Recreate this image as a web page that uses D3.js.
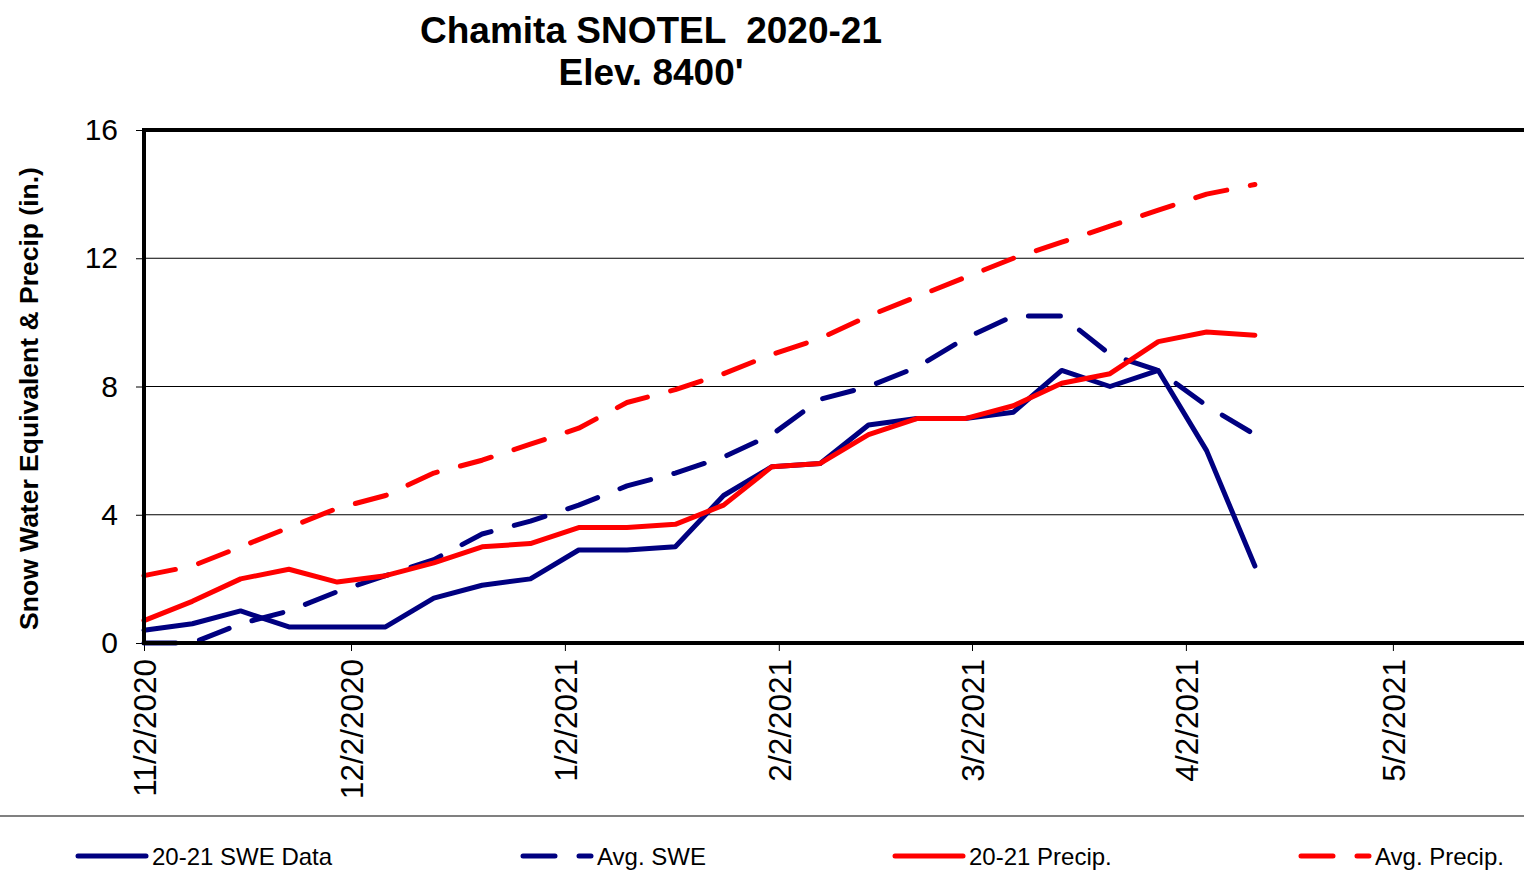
<!DOCTYPE html>
<html>
<head>
<meta charset="utf-8">
<script src="https://cdn.jsdelivr.net/npm/d3@7"></script>
<style>
  body { margin: 0; background: #fff; }
  text { font-family: "Liberation Sans", Arial, sans-serif; }
</style>
</head>
<body>
<div id="container"></div>
<script>
// DATA

const dates = [
  "2020-11-02", "2020-11-09", "2020-11-16", "2020-11-23", "2020-11-30",
  "2020-12-07", "2020-12-14", "2020-12-21", "2020-12-28", "2021-01-04",
  "2021-01-11", "2021-01-18", "2021-01-25", "2021-02-01", "2021-02-08",
  "2021-02-15", "2021-02-22", "2021-03-01", "2021-03-08", "2021-03-15",
  "2021-03-22", "2021-03-29", "2021-04-05", "2021-04-12"
]
const sweData    = [0.4, 0.6, 1.0, 0.5, 0.5, 0.5, 1.4, 1.8, 2.0, 2.9, 2.9, 3.0, 4.6, 5.5, 5.6, 6.8, 7.0, 7.0, 7.2, 8.5, 8.0, 8.5, 6.0, 2.4]
const avgSwe     = [0, 0, 0.6, 1.0, 1.6, 2.1, 2.6, 3.4, 3.8, 4.3, 4.9, 5.3, 5.8, 6.5, 7.6, 8.0, 8.6, 9.5, 10.2, 10.2, 9.0, 8.5, 7.4, 6.5]
const precipData = [0.7, 1.3, 2.0, 2.3, 1.9, 2.1, 2.5, 3.0, 3.1, 3.6, 3.6, 3.7, 4.3, 5.5, 5.6, 6.5, 7.0, 7.0, 7.4, 8.1, 8.4, 9.4, 9.7, 9.6]
const avgPrecip  = [2.1, 2.4, 3.0, 3.6, 4.2, 4.6, 5.3, 5.7, 6.2, 6.7, 7.5, 7.9, 8.4, 9.0, 9.5, 10.2, 10.8, 11.4, 12.0, 12.5, 13.0, 13.5, 14.0, 14.3]

const seriesNames = ["20-21 SWE Data", "Avg. SWE", "20-21 Precip.", "Avg. Precip."]
const yTicks = [0, 4, 8, 12, 16]
const xTicks = ["2020-11-02", "2020-12-02", "2021-01-02", "2021-02-02", "2021-03-02", "2021-04-02", "2021-05-02"]
const xDomain = ["2020-11-02", "2021-05-21"]

// VARIABLES

const width = 1524, height = 870
const plotLeft = 144, plotRight = 1524, plotTop = 130, plotBottom = 643
const navy = "#000080", red = "#ff0000"
const parse = d3.timeParse("%Y-%m-%d")
const fmt = d3.timeFormat("%-m/%-d/%Y")

const series = [
  {name: seriesNames[0], values: sweData, color: navy, dash: null},
  {name: seriesNames[1], values: avgSwe, color: navy, dash: "32,24"},
  {name: seriesNames[2], values: precipData, color: red, dash: null},
  {name: seriesNames[3], values: avgPrecip, color: red, dash: "32,24"}
]

// SCALES

const x = d3.scaleTime()
  .domain(xDomain.map(parse))
  .range([plotLeft, plotRight])

const y = d3.scaleLinear()
  .domain([0, 16])
  .range([plotBottom, plotTop])

// ELEMENTS

const svg = d3.select("#container")
  .append("svg")
  .attr("width", width)
  .attr("height", height)

// title
const title = svg.append("text")
  .attr("text-anchor", "middle")
  .attr("font-weight", "bold")
  .attr("font-size", 37)
  .style("white-space", "pre")
title.append("tspan").attr("x", 651).attr("y", 43).text("Chamita SNOTEL  2020-21")
title.append("tspan").attr("x", 651).attr("y", 85).text("Elev. 8400'")

// gridlines
svg.append("g")
  .selectAll("line")
  .data(yTicks.filter(d => d > 0 && d < 16))
  .join("line")
  .attr("x1", plotLeft).attr("x2", plotRight)
  .attr("y1", d => y(d)).attr("y2", d => y(d))
  .attr("stroke", "#000").attr("stroke-width", 1)

// y axis
const yAxis = svg.append("g")
  .attr("transform", `translate(${plotLeft},0)`)
  .call(d3.axisLeft(y).tickValues(yTicks).tickSize(8).tickPadding(18))
yAxis.select(".domain").remove()
yAxis.selectAll("text").attr("font-size", 30).attr("fill", "#000").attr("font-family", "Liberation Sans, Arial, sans-serif")

// x axis
const xAxis = svg.append("g")
  .attr("transform", `translate(0,${plotBottom})`)
  .call(d3.axisBottom(x).tickValues(xTicks.map(parse)).tickFormat(fmt).tickSize(8))
xAxis.select(".domain").remove()
xAxis.selectAll("text")
  .attr("font-size", 31.5)
  .attr("fill", "#000")
  .attr("font-family", "Liberation Sans, Arial, sans-serif")
  .attr("text-anchor", "end")
  .attr("transform", "rotate(-90)")
  .attr("x", -16).attr("y", 0).attr("dy", "0.36em")

// y axis label
svg.append("text")
  .attr("transform", `translate(38,${(plotTop + plotBottom) / 2 + 12}) rotate(-90)`)
  .attr("text-anchor", "middle")
  .attr("font-weight", "bold")
  .attr("font-size", 26.5)
  .text("Snow Water Equivalent & Precip (in.)")

// lines
const line = d3.line()
  .x((d, i) => x(parse(dates[i])))
  .y(d => y(d))

svg.append("g")
  .selectAll("path")
  .data(series)
  .join("path")
  .attr("d", d => line(d.values))
  .attr("fill", "none")
  .attr("stroke", d => d.color)
  .attr("stroke-width", 5)
  .attr("stroke-linecap", "round")
  .attr("stroke-linejoin", "round")
  .attr("stroke-dasharray", d => d.dash)

// plot border (left, top, bottom)
svg.append("path")
  .attr("d", `M${plotRight + 4},${plotTop}H${plotLeft}V${plotBottom}H${plotRight + 4}`)
  .attr("fill", "none")
  .attr("stroke", "#000")
  .attr("stroke-width", 4)

// legend
svg.append("line")
  .attr("x1", 0).attr("x2", width)
  .attr("y1", 816).attr("y2", 816)
  .attr("stroke", "#808080").attr("stroke-width", 2)

const legendX = [78, 523, 895, 1301]
const legend = svg.append("g")
  .selectAll("g")
  .data(series)
  .join("g")
  .attr("transform", (d, i) => `translate(${legendX[i]},856)`)

legend.append("line")
  .attr("x1", 0).attr("x2", 68)
  .attr("stroke", d => d.color)
  .attr("stroke-width", 5)
  .attr("stroke-linecap", "round")
  .attr("stroke-dasharray", d => d.dash)

legend.append("text")
  .attr("x", 74).attr("y", 9)
  .attr("font-size", 24)
  .text(d => d.name)
</script>
</body>
</html>
